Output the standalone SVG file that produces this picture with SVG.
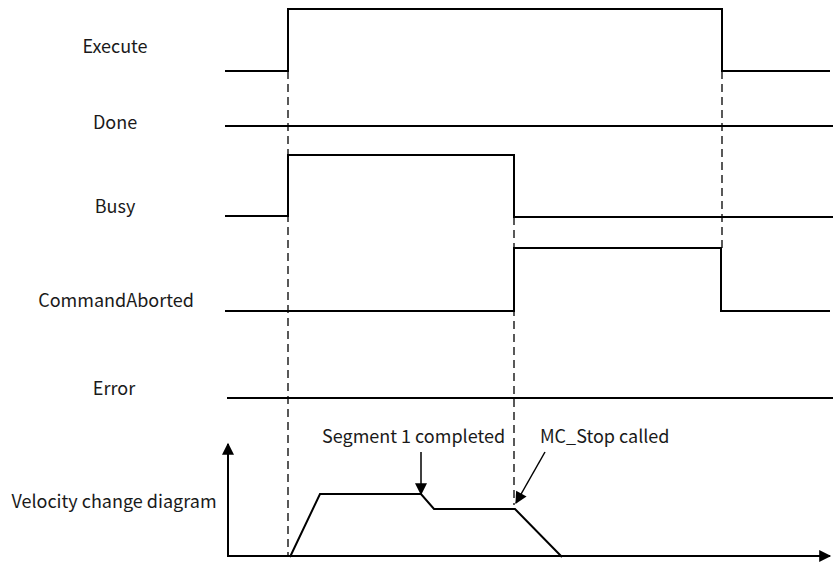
<svg xmlns="http://www.w3.org/2000/svg" width="833" height="562" viewBox="0 0 833 562">
<style>
.lbl{font-family:"Noto Sans CJK SC","Noto Sans",sans-serif;font-size:18px;fill:#1a1a1a}
.sig{fill:none;stroke:#000;stroke-width:2}
.dash{fill:none;stroke:#000;stroke-width:1.3;stroke-dasharray:8 5}
.arr{fill:none;stroke:#000;stroke-width:1.5}
</style>
<defs>
<marker id="ah" viewBox="0 0 10 10" refX="9" refY="5" markerWidth="17" markerHeight="12" markerUnits="userSpaceOnUse" orient="auto"><path d="M0,0 L10,5 L0,10 Z" fill="#000"/></marker>
<marker id="axh" viewBox="0 0 10 10" refX="9" refY="5" markerWidth="16" markerHeight="12" markerUnits="userSpaceOnUse" orient="auto"><path d="M0,0 L10,5 L0,10 Z" fill="#000"/></marker>
</defs>
<rect width="833" height="562" fill="#fff"/>
<g id="labels">
<text class="lbl" x="115" y="53" text-anchor="middle">Execute</text>
<text class="lbl" x="115" y="129" text-anchor="middle">Done</text>
<text class="lbl" x="115" y="213" text-anchor="middle">Busy</text>
<text class="lbl" x="116" y="307" text-anchor="middle">CommandAborted</text>
<text class="lbl" x="114" y="395" text-anchor="middle">Error</text>
<text class="lbl" x="114" y="508" text-anchor="middle">Velocity change diagram</text>
</g>
<g id="execute"><path class="sig" d="M225,71 H288 V9 H722 V71 H830"/></g>
<g id="done"><path class="sig" d="M225,126 H833"/></g>
<g id="busy"><path class="sig" d="M225,216 H288 V155 H514 V217 H833"/></g>
<g id="commandaborted"><path class="sig" d="M225,311 H514 V248 H721 V311 H830"/></g>
<g id="error"><path class="sig" d="M227,398 H833"/></g>
<g id="velocity">
<path class="sig" d="M228,557 V444" marker-end="url(#axh)"/>
<path class="sig" d="M228,556 H830" marker-end="url(#axh)"/>
<path class="sig" d="M290,557 L320,494 H421 L434,509 H515 L562,557"/>
</g>
<g id="connectors">
<path class="dash" d="M288,71 V557"/>
<path class="dash" d="M514,217 V505"/>
<path class="dash" d="M722,71 V248"/>
<path class="arr" d="M421,452 V494" marker-end="url(#ah)"/>
<path class="arr" d="M545,452 L516,503" marker-end="url(#ah)"/>
</g>
<g id="annotations">
<text class="lbl" x="322" y="443">Segment 1 completed</text>
<text class="lbl" x="540" y="443">MC_Stop called</text>
</g>
</svg>
